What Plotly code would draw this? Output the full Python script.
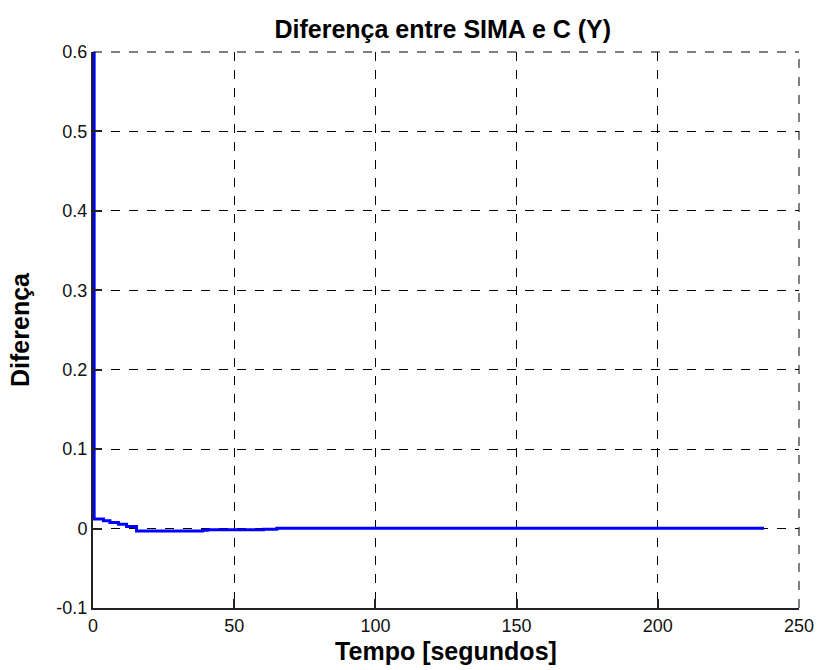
import plotly.graph_objects as go

# Difference between SIMA and C output (Y) over time
tempo = [0, 0.4, 3.7, 6.0, 9.0, 11.9, 15.4, 38.8, 40.6, 60.4, 65.1, 237.6]
diferenca = [0.6, 0.0120, 0.0097, 0.0076, 0.0055, 0.0025, -0.0030, -0.0020,
             -0.0015, -0.0008, 0.0003, 0.0003]

x_ticks = [0, 50, 100, 150, 200, 250]
y_ticks = [-0.1, 0, 0.1, 0.2, 0.3, 0.4, 0.5, 0.6]
y_labels = ["-0.1", "0", "0.1", "0.2", "0.3", "0.4", "0.5", "0.6"]

FONT = "Liberation Sans, Arial"

fig = go.Figure()
fig.add_trace(go.Scatter(
    x=tempo, y=diferenca, mode="lines",
    line=dict(color="#0000ff", width=3, shape="hv"),
    showlegend=False,
))

axis_common = dict(
    showgrid=True, gridcolor="#000000", griddash="dash", gridwidth=1,
    zeroline=False, showline=True, linecolor="#222222", linewidth=2,
    ticks="inside", ticklen=9, tickwidth=2, tickcolor="#222222",
    tickfont=dict(family=FONT, size=18, color="#111111"),
    mirror=False, automargin=False,
)

fig.update_layout(
    width=820, height=670,
    margin=dict(l=93, r=21, t=52, b=62),
    paper_bgcolor="#ffffff", plot_bgcolor="#ffffff",
    title=dict(text="<b>Diferença entre SIMA e C (Y)</b>", x=0.54, xanchor="center",
               y=0.957, yanchor="middle",
               font=dict(family=FONT, size=25, color="#000000")),
    xaxis=dict(range=[0, 250], tickvals=x_ticks, ticktext=[str(v) for v in x_ticks],
               title=dict(text="<b>Tempo [segundos]</b>", standoff=8,
                          font=dict(family=FONT, size=25, color="#000000")),
               **axis_common),
    yaxis=dict(range=[-0.1, 0.6], tickvals=y_ticks, ticktext=y_labels,
               title=dict(text="<b>Diferença</b>", standoff=20,
                          font=dict(family=FONT, size=25, color="#000000")),
               **axis_common),
)

# Dashed frame on top and right edges
fig.add_shape(type="line", xref="paper", yref="paper", x0=0, x1=1, y0=1, y1=1,
              line=dict(color="#000000", width=1, dash="dash"))
fig.add_shape(type="line", xref="paper", yref="paper", x0=1, x1=1, y0=0, y1=1,
              line=dict(color="#000000", width=1, dash="dash"))

fig.write_html("out.html")
